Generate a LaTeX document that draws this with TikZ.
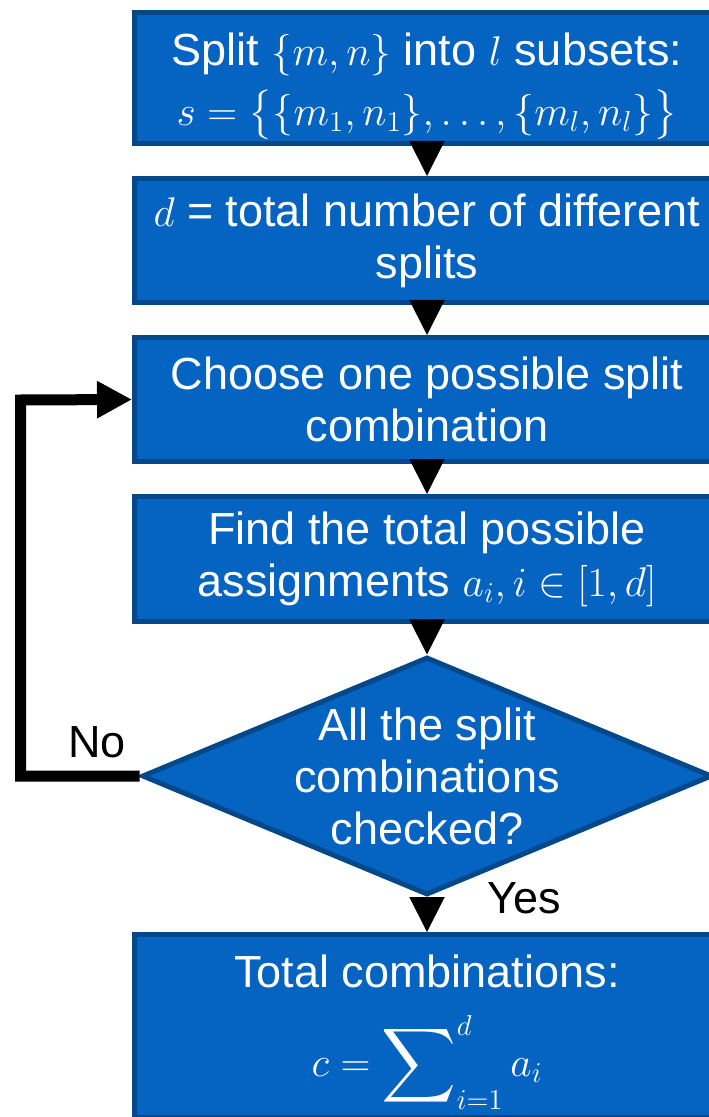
\documentclass[tikz,border=0pt]{standalone}
\usepackage{amsmath}
\usepackage{exscale}
\usepackage{fontspec}
\setmainfont{Liberation Sans}
\usetikzlibrary{arrows.meta,shapes.geometric}
\definecolor{boxblue}{RGB}{5,99,193}
\definecolor{boxedge}{RGB}{4,72,138}
\newcommand{\bigsum}{\mathop{\vcenter{\hbox{\scalebox{1.25}{$\displaystyle\sum$}}}}\nolimits}

\begin{document}
\begin{tikzpicture}[x=0.5pt, y=-0.5pt,
  every node/.style={font=\fontsize{22.5pt}{26pt}\selectfont},
  stepbox/.style={draw=boxedge, line width=2.5pt, fill=boxblue, text=white,
    align=center, minimum width=292.5pt, inner sep=0pt},
  steptxt/.style={text=white, align=center, inner sep=0pt},
  decision/.style={diamond, draw=boxedge, line width=2.5pt, fill=boxblue,
    minimum width=285pt, minimum height=119pt, inner sep=0pt},
  flow/.style={-{Triangle[length=17.5pt, width=17.5pt]}, line width=1pt},
  back/.style={-{Triangle[length=17.5pt, width=17.5pt]}, line width=5.5pt},
  lbl/.style={text=black, inner sep=0pt}]
  \useasboundingbox (0,0) rectangle (708,1117);
  % process boxes
  \node[stepbox, minimum height=65.5pt] (split) at (427,78) {};
  \node[steptxt] (splittxt) at (427,86)
    {Split $\{m, n\}$ into $l$ subsets:\\[4pt]
     $s = \bigl\{\{m_1, n_1\}, \ldots, \{m_l, n_l\}\bigr\}$};
  \node[stepbox, minimum height=62pt] (count) at (427,240.5)
    {$d$ = total number of different\\ splits};
  \node[stepbox, minimum height=62pt] (choose) at (427,399.5)
    {Choose one possible split\\ combination};
  \node[stepbox, minimum height=62.5pt] (assign) at (427,559)
    {Find the total possible\\ assignments $a_i, i \in [1, d]$};
  \node[decision] (check) at (427,776) {};
  \node[steptxt] (checktxt) at (check)
    {All the split\\ combinations\\ checked?};
  \node[stepbox, minimum height=91.5pt] (total) at (427,1026) {};
  \node[steptxt] (totaltxt) at (427,1032)
    {Total combinations:\\[13pt]
     $c = \bigsum_{i=1}^{d} a_i$};
  % connectors
  \draw[flow] (split) -- (count);
  \draw[flow] (count) -- (choose);
  \draw[flow] (choose) -- (assign);
  \draw[flow] (assign) -- (check);
  \draw[flow] (check) -- (total);
  \coordinate (loopc) at (20.5,400);
  \draw[back] (check.west) -| (loopc) -- (choose.west);
  % labels
  \node[lbl, anchor=base east] (nolbl) at (126,757) {No};
  \node[lbl, anchor=base west] (yeslbl) at (487,913) {Yes};
\end{tikzpicture}
\end{document}
